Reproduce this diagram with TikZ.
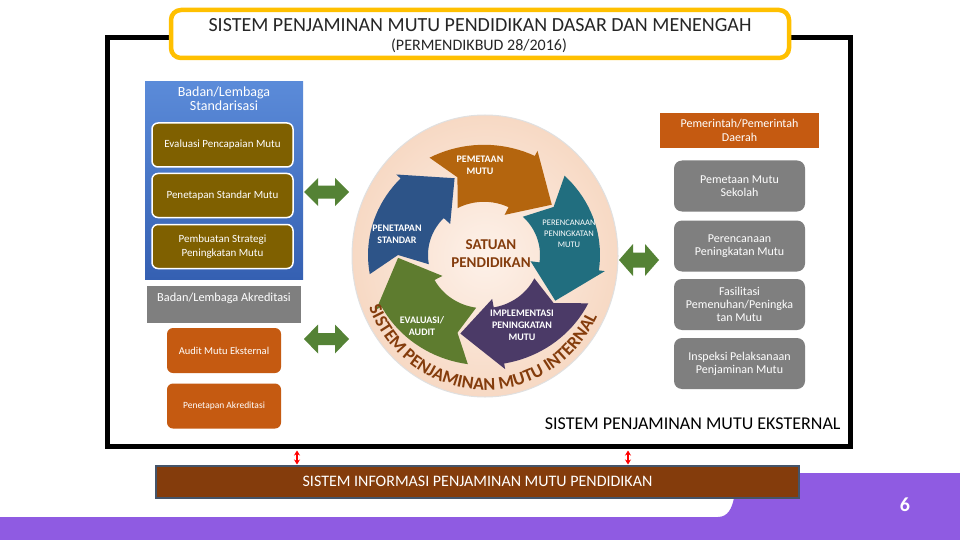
\documentclass[tikz,border=0pt]{standalone}
\usepackage{fontspec}
\setmainfont{Carlito}
\usetikzlibrary{shapes.geometric,arrows.meta,decorations.text}

\definecolor{ungu}{HTML}{8F5BE2}
\definecolor{emas}{HTML}{FFC000}
\definecolor{biruA}{HTML}{5B8BD9}
\definecolor{biruB}{HTML}{3560B2}
\definecolor{zaitun}{HTML}{7F6000}
\definecolor{jingga}{HTML}{C55A11}
\definecolor{kelabu}{HTML}{7F7F7F}
\definecolor{hijau}{HTML}{548235}
\definecolor{marun}{HTML}{843C0C}
\definecolor{batas}{HTML}{44546A}
\definecolor{persik}{HTML}{FDF1E9}
\definecolor{persikB}{HTML}{F7D9C4}
\definecolor{pA}{HTML}{B4650E} % pemetaan
\definecolor{pB}{HTML}{216E7F} % perencanaan
\definecolor{pC}{HTML}{4B3A67} % implementasi
\definecolor{pD}{HTML}{5E7C2F} % evaluasi
\definecolor{pE}{HTML}{2D5488} % penetapan

\begin{document}
\begin{tikzpicture}[x=1pt, y=-1pt,
  panelbiru/.style={top color=biruA, bottom color=biruB, minimum width=158, minimum height=197},
  kotakcoklat/.style={fill=zaitun, draw=white, line width=1.5pt, rounded corners=6pt, minimum width=141, minimum height=44, text=white, align=center, font=\fontsize{11}{14}\selectfont},
  kotakjingga/.style={fill=jingga, rounded corners=6pt, minimum width=114, minimum height=45, text=white},
  kotakabu/.style={fill=kelabu, rounded corners=8pt, minimum width=131, minimum height=51, text=white, align=center, font=\fontsize{12}{13}\selectfont},
  teksputar/.style={text=white, align=center, font=\fontsize{10}{12}\selectfont\bfseries},
  panahmerah/.style={red, line width=2pt, <->, >={Stealth[length=5pt,width=6pt]}, shorten <=2pt},
  pics/duaarah/.style args={#1/#2/#3}{code={
    \fill[hijau] (-#1,0) -- (-#1+14,-#2) -- (-#1+14,-#3) -- (#1-14,-#3) -- (#1-14,-#2) -- (#1,0)
      -- (#1-14,#2) -- (#1-14,#3) -- (-#1+14,#3) -- (-#1+14,#2) -- cycle;}}
]
  \useasboundingbox (0,0) rectangle (960,540);
  \fill[white] (0,0) rectangle (960,540);

  % pita ungu
  \fill[ungu] (0,517) -- (718,517) .. controls (728,517) and (732,508) .. (734,498)
    -- (739,473) -- (960,473) -- (960,540) -- (0,540) -- cycle;

  % bingkai dan judul
  \node[draw, line width=5pt, minimum width=743, minimum height=408] (spme) at (478.5,242) {};
  \node[draw=emas, line width=4.5pt, fill=white, rounded corners=10pt, minimum width=618, minimum height=48] (judul) at (480,34) {};
  \node[font=\fontsize{20}{22}\selectfont, text=black!85] (judul1) at (480,25) {SISTEM PENJAMINAN MUTU PENDIDIKAN DASAR DAN MENENGAH};
  \node[font=\fontsize{16}{18}\selectfont, text=black!85] (judul2) at (479,46) {(PERMENDIKBUD 28/2016)};

  % kiri
  \node[panelbiru] (bls) at (224,180.5) {};
  \node[text=white, align=center, font=\fontsize{14}{14}\selectfont] (bls1) at (224,99) {Badan/Lembaga\\Standarisasi};
  \node[kotakcoklat] (evaluasi) at (222.5,145) {Evaluasi Pencapaian Mutu};
  \node[kotakcoklat] (standar) at (222.5,195.5) {Penetapan Standar Mutu};
  \node[kotakcoklat] (strategi) at (222.5,246.5) {Pembuatan Strategi\\Peningkatan Mutu};
  \node[fill=kelabu, minimum width=154, minimum height=37] (bla) at (224,304.5) {};
  \node[text=white, font=\fontsize{12.3}{14}\selectfont] (bla1) at (224,298) {Badan/Lembaga Akreditasi};
  \node[kotakjingga, font=\fontsize{10.5}{12}\selectfont] (audit) at (224,350.5) {Audit Mutu Eksternal};
  \node[kotakjingga, font=\fontsize{9.5}{11}\selectfont] (akreditasi) at (224,406) {Penetapan Akreditasi};

  % kanan
  \node[fill=jingga, minimum width=159, minimum height=35, text=white, align=center, font=\fontsize{12}{14}\selectfont] (pemda) at (739.5,130.5) {Pemerintah/Pemerintah\\Daerah};
  \node[kotakabu] (pemetaan) at (739.5,186) {Pemetaan Mutu\\Sekolah};
  \node[kotakabu] (perencanaan) at (739.5,246) {Perencanaan\\Peningkatan Mutu};
  \node[kotakabu] (fasilitasi) at (739.5,304.5) {Fasilitasi\\Pemenuhan/Peningka\\tan Mutu};
  \node[kotakabu] (inspeksi) at (739.5,363.5) {Inspeksi Pelaksanaan\\Penjaminan Mutu};

  % lingkaran SPMI
  \node[ellipse, minimum width=266, minimum height=282, inner sep=0, inner color=persik, outer color=persikB, draw=black!12, line width=1pt] (spmi) at (485,256) {};
  \begin{scope}[shift={(484,255)}, yscale=0.95]
    \foreach \c/\warna in {-82/pA, -10/pB, 62/pC, 134/pD, 206/pE}
    {
      \pgfmathsetmacro\awal{\c-36}
      \pgfmathsetmacro\kepala{\c+18}
      \pgfmathsetmacro\ujung{\c+44}
      \pgfmathsetmacro\takik{\c-26}
      \fill[\warna] plot[domain=\awal:\kepala, samples=20] (\x:116) -- (\kepala:122) -- (\ujung:86)
        -- (\kepala:47) -- plot[domain=\kepala:\awal, samples=20] (\x:56) -- (\takik:86) -- cycle;
    }
  \end{scope}
  \begin{scope}[shift={(485,256)}, xscale=0.94]
    \path[decorate, decoration={text along path, text align=center, text color=marun,
      text={|\fontsize{18}{18}\selectfont\bfseries|SISTEM PENJAMINAN MUTU INTERNAL}}]
      plot[domain=168:16, samples=80] (\x:134);
  \end{scope}
  \node[teksputar] (lpemetaan) at (480,165) {PEMETAAN\\MUTU};
  \node[teksputar, font=\fontsize{8.5}{11}\selectfont] (lperencanaan) at (569,234) {PERENCANAAN\\PENINGKATAN\\MUTU};
  \node[teksputar] (limplementasi) at (522,325) {IMPLEMENTASI\\PENINGKATAN\\MUTU};
  \node[teksputar] (levaluasi) at (422,326) {EVALUASI/\\AUDIT};
  \node[teksputar] (lpenetapan) at (397,234) {PENETAPAN\\STANDAR};
  \node[text=marun, align=center, font=\fontsize{15}{18}\selectfont\bfseries] (satuan) at (491,254) {SATUAN\\PENDIDIKAN};

  % panah hijau
  \pic at (326.5,192) {duaarah=22.5/14/6.5};
  \pic at (326.5,339) {duaarah=22.5/14.5/6};
  \pic at (639,260) {duaarah=20/16/7.5};

  \node[anchor=east, font=\fontsize{18}{20}\selectfont] (spmeteks) at (844,424) {SISTEM PENJAMINAN MUTU EKSTERNAL};

  % sistem informasi
  \node[fill=marun, draw=batas, line width=2pt, minimum width=643, minimum height=32, text=white, font=\fontsize{16}{18}\selectfont] (sim) at (477.5,481.5) {SISTEM INFORMASI PENJAMINAN MUTU PENDIDIKAN};
  \coordinate (m1) at (297,0);
  \coordinate (m2) at (628,0);
  \draw[panahmerah] (spme.south -| m1) -- (sim.north -| m1);
  \draw[panahmerah] (spme.south -| m2) -- (sim.north -| m2);

  \node[text=white, font=\fontsize{20}{20}\selectfont\bfseries] (hal) at (905,505) {6};
\end{tikzpicture}
\end{document}
